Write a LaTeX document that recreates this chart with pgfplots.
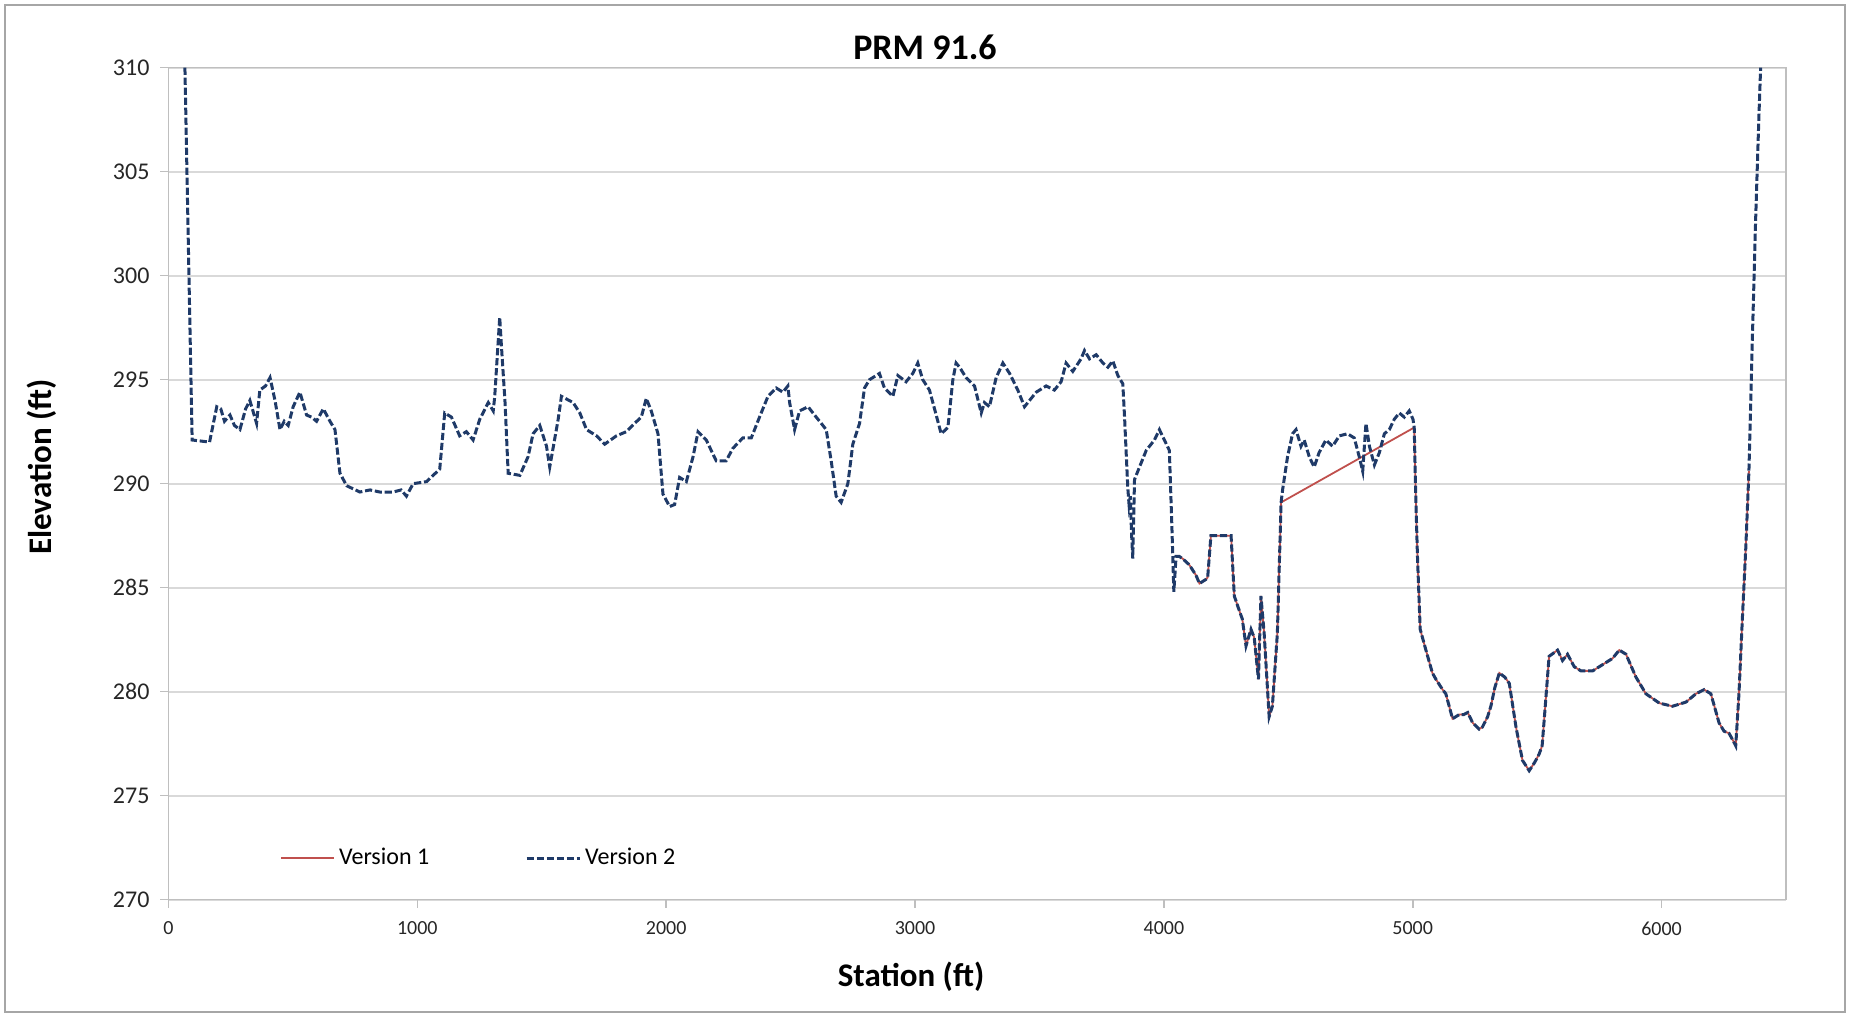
\documentclass[border=0pt]{standalone}
\usepackage{pgfplots}
\usepackage{pgfplotstable}
\pgfplotsset{compat=1.18}
\usepackage{fontspec}
\setmainfont{Carlito}
\definecolor{vone}{HTML}{C0504D}
\definecolor{vtwo}{HTML}{1F3A68}
\definecolor{gridc}{HTML}{D9D9D9}
\definecolor{axc}{HTML}{BFBFBF}
\definecolor{framec}{HTML}{A6A6A6}

\pgfplotstableread{
x y
4049 286.5
4062 286.5
4075 286.4
4102 286.1
4129 285.6
4143 285.2
4169 285.4
4176 285.5
4189 287.5
4270 287.5
4283 284.6
4303 283.9
4315 283.5
4330 282.2
4350 283.0
4363 282.6
4380 280.6
4390 284.6
4403 282.8
4423 278.8
4436 279.3
4456 282.8
4471 289.1
5006 292.7
5012 289.5
5019 286.5
5030 283.0
5053 282.0
5079 280.9
5093 280.6
5120 280.1
5133 279.9
5160 278.7
5187 278.9
5205 278.9
5221 279.0
5241 278.5
5267 278.2
5280 278.3
5301 278.8
5314 279.3
5330 280.2
5348 280.9
5370 280.7
5388 280.4
5415 278.3
5441 276.7
5468 276.2
5490 276.6
5508 277.0
5520 277.4
5528 278.6
5548 281.7
5582 282.0
5602 281.5
5622 281.8
5649 281.2
5676 281.0
5700 281.0
5723 281.0
5763 281.3
5803 281.6
5830 282.0
5857 281.8
5897 280.7
5937 279.9
5991 279.45
6044 279.3
6098 279.5
6138 279.9
6171 280.1
6198 279.9
6231 278.5
6251 278.1
6271 278.0
6285 277.7
6298 277.4
6311 279.9
6325 283.6
6338 286.8
6351 290.6
}\tabA

\pgfplotstableread{
x y
66 310
95 292.1
165 292.0
194 293.7
210 293.6
225 293.0
247 293.3
265 292.8
287 292.6
310 293.6
327 294.0
354 292.9
367 294.5
390 294.7
408 295.1
428 294.0
448 292.6
465 293.0
481 292.8
501 293.7
528 294.4
555 293.3
575 293.2
595 293.0
622 293.6
649 293.0
669 292.6
689 290.5
716 289.9
769 289.6
810 289.7
849 289.6
903 289.6
935 289.7
956 289.4
983 290.0
1037 290.1
1090 290.7
1110 293.4
1137 293.2
1170 292.3
1197 292.5
1224 292.1
1251 293.1
1285 293.9
1305 293.5
1311 294.2
1331 298.0
1338 296.6
1352 294.0
1365 290.5
1412 290.4
1445 291.3
1465 292.4
1492 292.8
1519 291.8
1532 290.8
1566 293.1
1579 294.2
1626 293.9
1653 293.4
1680 292.6
1720 292.3
1753 291.9
1800 292.3
1840 292.5
1873 292.9
1900 293.2
1920 294.1
1940 293.5
1967 292.4
1987 289.5
2014 288.9
2034 289.0
2054 290.3
2081 290.1
2108 291.3
2128 292.5
2161 292.1
2201 291.1
2241 291.1
2268 291.7
2308 292.2
2342 292.2
2375 293.2
2409 294.2
2442 294.6
2469 294.4
2489 294.7
2496 293.9
2516 292.6
2536 293.5
2570 293.7
2603 293.2
2643 292.6
2663 291.1
2683 289.4
2703 289.1
2730 290.0
2750 291.9
2777 292.9
2797 294.6
2817 295.0
2857 295.3
2877 294.6
2911 294.2
2931 295.2
2964 294.9
2991 295.3
3011 295.8
3031 295.0
3058 294.5
3085 293.3
3105 292.4
3132 292.7
3152 295.0
3165 295.8
3179 295.6
3205 295.1
3239 294.7
3266 293.4
3279 293.9
3299 293.7
3326 295.1
3353 295.8
3380 295.3
3413 294.5
3440 293.7
3460 294.0
3487 294.4
3527 294.7
3560 294.5
3587 294.9
3607 295.8
3634 295.4
3667 296.0
3681 296.4
3701 296.0
3728 296.2
3755 295.8
3775 295.6
3795 295.9
3815 295.2
3835 294.8
3842 293.2
3848 291.6
3855 289.8
3860 289.0
3865 289.4
3870 287.6
3875 286.4
3882 290.2
3902 290.8
3929 291.6
3962 292.1
3982 292.6
4002 292.1
4022 291.6
4032 288.0
4040 284.8
4049 286.5
4062 286.5
4075 286.4
4102 286.1
4129 285.6
4143 285.2
4169 285.4
4176 285.5
4189 287.5
4270 287.5
4283 284.6
4303 283.9
4315 283.5
4330 282.2
4350 283.0
4363 282.6
4380 280.6
4390 284.6
4403 282.8
4423 278.8
4436 279.3
4456 282.8
4471 289.1
4477 289.7
4497 291.3
4517 292.4
4531 292.6
4551 291.8
4564 292.1
4584 291.3
4604 290.8
4624 291.5
4651 292.1
4678 291.8
4705 292.3
4738 292.4
4765 292.2
4785 291.3
4799 290.6
4812 292.9
4826 291.8
4846 290.9
4866 291.5
4886 292.4
4906 292.6
4926 293.1
4946 293.4
4966 293.2
4986 293.5
5001 293.1
5006 292.7
5012 289.5
5019 286.5
5030 283.0
5053 282.0
5079 280.9
5093 280.6
5120 280.1
5133 279.9
5160 278.7
5187 278.9
5205 278.9
5221 279.0
5241 278.5
5267 278.2
5280 278.3
5301 278.8
5314 279.3
5330 280.2
5348 280.9
5370 280.7
5388 280.4
5415 278.3
5441 276.7
5468 276.2
5490 276.6
5508 277.0
5520 277.4
5528 278.6
5548 281.7
5582 282.0
5602 281.5
5622 281.8
5649 281.2
5676 281.0
5700 281.0
5723 281.0
5763 281.3
5803 281.6
5830 282.0
5857 281.8
5897 280.7
5937 279.9
5991 279.45
6044 279.3
6098 279.5
6138 279.9
6171 280.1
6198 279.9
6231 278.5
6251 278.1
6271 278.0
6285 277.7
6298 277.4
6311 279.9
6325 283.6
6338 286.8
6351 290.6
6364 296.6
6378 302.7
6391 307.6
6398 310.0
}\tabB

\begin{document}
\begin{tikzpicture}
\path[use as bounding box] (0,0) rectangle (926pt,507.5pt);
\draw[framec, line width=1pt] (2.5pt,1.5pt) rectangle (922.5pt,505pt);
\begin{axis}[
  at={(84.25pt,57.65pt)}, anchor=south west,
  scale only axis, width=808.75pt, height=416pt,
  xmin=0, xmax=6500, ymin=270, ymax=310,
  xtick={0,1000,...,6000}, ytick={270,275,...,310},
  ymajorgrids, grid style={gridc, line width=0.9pt},
  axis line style={axc, line width=0.8pt},
  tick style={axc, line width=0.8pt},
  tick align=outside, major tick length=4pt,
  xtick pos=bottom, ytick pos=left,
  scaled ticks=false,
  /pgf/number format/assume math mode=true,
  /pgf/number format/set thousands separator={},
  xticklabel style={font=\fontsize{10}{12}\selectfont, text=black!85, yshift=-3.5pt},
  yticklabel style={font=\fontsize{12}{14}\selectfont, text=black!85, xshift=-2pt},
  legend columns=2,
  legend style={at={(0.0689,0.05)}, anchor=west, draw=none, fill=none,
    font=\fontsize{12}{14}\selectfont, inner sep=0pt,
    /tikz/every even column/.append style={column sep=46pt},
    nodes={inner sep=2pt}},
  legend image code/.code={\draw[#1] (0pt,0pt) -- (26.5pt,0pt);},
]
\addplot[vone, line width=0.9pt] table {\tabA};
\addplot[vtwo, line width=1.5pt, dash pattern=on 3.6pt off 1.4pt] table {\tabB};
\legend{Version 1, Version 2}
\end{axis}
\node[font=\bfseries\fontsize{18}{20}\selectfont] at (462.5pt,484pt) {PRM 91.6};
\node[rotate=90, font=\bfseries\fontsize{16.5}{18}\selectfont] at (20.7pt,274pt) {Elevation (ft)};
\node[font=\bfseries\fontsize{16.5}{18}\selectfont] at (455.5pt,19pt) {Station (ft)};
\end{tikzpicture}
\end{document}
